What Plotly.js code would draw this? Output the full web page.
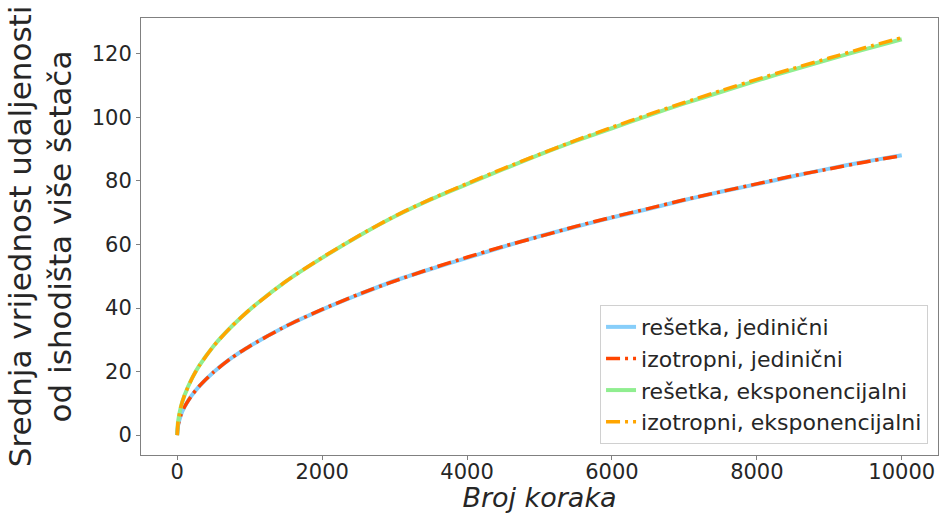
<!DOCTYPE html>
<html>
<head>
<meta charset="utf-8">
<script src="https://cdn.plot.ly/plotly-3.0.1.min.js"></script>
<style>html,body{margin:0;padding:0;background:#fff;}#chart{width:939px;height:513px;}</style>
</head>
<body>
<div id="chart"></div>
<script>
// Steps (broj koraka)
const steps = [0, 10, 50, 100, 200, 300, 500, 750, 1000, 1500, 2000, 2500, 3000, 3500, 4000, 4500, 5000, 5500, 6000, 6500, 7000, 7500, 8000, 8500, 9000, 9500, 10000];
// Mean distance from origin
const resetkaJedinicni = [0, 2.8, 6.3, 8.9, 12.5, 15.3, 19.8, 24.3, 28.0, 34.3, 39.5, 44.2, 48.6, 52.3, 55.8, 59.3, 62.6, 65.6, 68.5, 71.2, 74.0, 76.6, 79.0, 81.5, 83.9, 86.1, 88.1];
const izotropniJedinicni = [0, 2.8, 6.3, 8.9, 12.5, 15.3, 19.8, 24.3, 28.0, 34.3, 39.6, 44.3, 48.5, 52.4, 56.0, 59.4, 62.5, 65.7, 68.6, 71.3, 74.1, 76.6, 79.1, 81.6, 83.8, 86.0, 88.0];
const resetkaEksp = [0, 4.0, 8.9, 12.5, 17.7, 21.7, 28.0, 34.2, 39.5, 48.4, 55.8, 62.6, 68.8, 74.2, 79.0, 83.7, 88.3, 92.6, 96.6, 100.6, 104.4, 108.0, 111.6, 115.0, 118.3, 121.5, 124.6];
const izotropniEksp = [0, 4.0, 8.9, 12.5, 17.7, 21.7, 28.0, 34.2, 39.5, 48.4, 55.9, 62.7, 68.9, 74.3, 79.2, 83.9, 88.4, 92.8, 96.9, 100.9, 104.7, 108.4, 112.0, 115.4, 118.7, 122.0, 125.1];

const xTickVals = [0, 2000, 4000, 6000, 8000, 10000];
const xTickText = ["0", "2000", "4000", "6000", "8000", "10000"];
const yTickVals = [0, 20, 40, 60, 80, 100, 120];
const yTickText = ["0", "20", "40", "60", "80", "100", "120"];

const names = ["rešetka, jedinični", "izotropni, jedinični", "rešetka, eksponencijalni", "izotropni, eksponencijalni"];
const colors = ["#87CEFA", "#FF4500", "#90EE90", "#FFA500"];
const dashPattern = "14px,5px,3px,5px";

const series = [resetkaJedinicni, izotropniJedinicni, resetkaEksp, izotropniEksp];
const traces = series.map((vals, i) => ({
  x: steps,
  y: vals,
  type: "scatter",
  mode: "lines",
  name: names[i],
  line: {color: colors[i], width: i % 2 === 0 ? 4 : 3.5, dash: i % 2 === 0 ? "solid" : dashPattern, shape: "spline", smoothing: 0.6}
}));

const textColor = "#262626";
const axisCommon = {
  showgrid: false, zeroline: false, showline: true, mirror: true,
  linecolor: "#808080", linewidth: 1, ticks: "outside", ticklen: 4, tickcolor: "#808080",
  tickfont: {family: "DejaVu Sans", size: 21, color: textColor}
};

const layout = {
  width: 939, height: 513,
  margin: {l: 141, r: 1, t: 18, b: 58},
  paper_bgcolor: "#fff", plot_bgcolor: "#fff",
  showlegend: true,
  xaxis: Object.assign({}, axisCommon, {
    range: [-500, 10500], tickvals: xTickVals, ticktext: xTickText, ticklabelstandoff: -6,
    title: {text: "<i>Broj koraka</i>", font: {family: "DejaVu Sans", size: 27, color: textColor}, standoff: 8}
  }),
  yaxis: Object.assign({}, axisCommon, {
    range: [-6.25, 131.3], tickvals: yTickVals, ticktext: yTickText,
    title: {text: "Srednja vrijednost udaljenosti<br>od ishodišta više šetača", font: {family: "DejaVu Sans", size: 31, color: textColor}, standoff: 10}
  }),
  legend: {
    x: 0.9875, y: 0.025, xanchor: "right", yanchor: "bottom",
    bgcolor: "rgba(255,255,255,0.8)", bordercolor: "#d0d0d0", borderwidth: 1,
    font: {family: "DejaVu Sans", size: 22, color: textColor},
    tracegroupgap: 0
  }
};

Plotly.newPlot("chart", traces, layout, {displayModeBar: false, staticPlot: true});
</script>
</body>
</html>
